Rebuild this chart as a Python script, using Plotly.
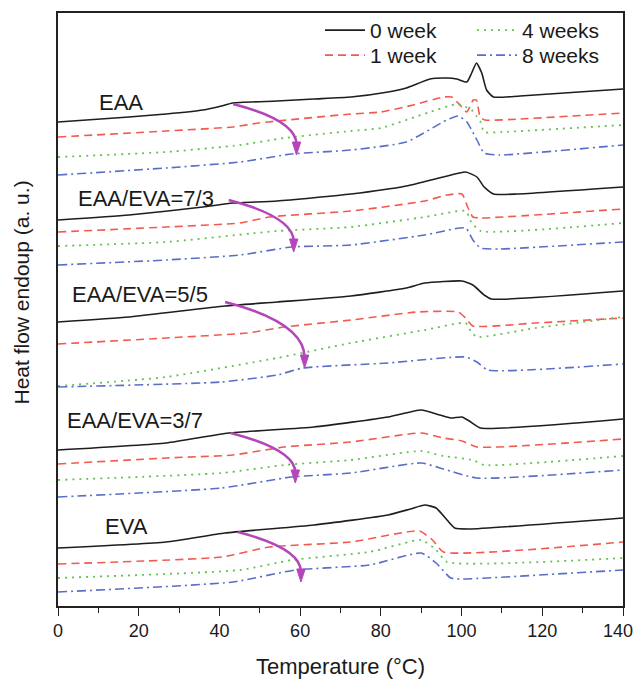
import plotly.graph_objects as go

# ---------------- data (temperature in °C, heat flow in a.u.) ----------------
weeks = ["0 week", "1 week", "4 weeks", "8 weeks"]

# EAA
eaa_0w_T = [0, 17.6, 26.8, 35.9, 40.5, 43.3, 54.3, 63.4, 72.6, 81.8, 86.3, 92.2, 96.3, 98.8, 101.3, 102.5, 103.7, 105.0, 106.2, 107.9, 114.5, 140]
eaa_0w_hf = [484, 489, 492, 496, 500, 503, 505, 507, 509, 514, 518, 527, 528, 527, 524, 533, 543, 533, 516, 509, 510, 517]
eaa_1w_T = [0, 26.8, 43.3, 49.7, 54.3, 72.6, 80, 88, 95.5, 97.6, 99.6, 101.3, 102.9, 103.7, 104.6, 105.8, 114.5, 140]
eaa_1w_hf = [469, 475, 479, 483, 485, 492, 494, 501, 509, 509, 501, 494, 506, 506, 489, 486, 487, 493]
eaa_4w_T = [0, 26.8, 45.1, 56.1, 72.6, 80, 92.2, 98.8, 100.5, 102.5, 103.7, 104.6, 105.6, 110, 140]
eaa_4w_hf = [449, 454, 461, 468, 475, 478, 494, 502, 500, 496, 490, 485, 474, 474, 481]
eaa_8w_T = [0, 26.8, 45.1, 57.9, 72.6, 86.3, 96.3, 99.2, 101.3, 102.5, 103.8, 105.6, 109.3, 140]
eaa_8w_hf = [431, 438, 444, 452, 456, 464, 486, 490, 484, 476, 466, 453, 451, 461]

# EAA/EVA = 7/3
r73_0w_T = [0, 17.6, 35.9, 43.3, 54.3, 72.6, 86.3, 95.5, 101.0, 103.8, 105.6, 107.9, 113.8, 140]
r73_0w_hf = [386, 391, 399, 403, 405, 412, 420, 429, 434, 429, 419, 412, 412, 419]
r73_1w_T = [0, 26.8, 45.1, 52.4, 72.6, 90.9, 96.4, 100.1, 101.5, 102.8, 104.7, 140]
r73_1w_hf = [374, 379, 383, 389, 395, 405, 411, 412, 399, 389, 388, 397]
r73_4w_T = [0, 26.8, 54.3, 72.6, 90.9, 101.0, 102.4, 104.7, 140]
r73_4w_hf = [360, 364, 375, 379, 389, 395, 384, 375, 383]
r73_8w_T = [0, 26.8, 45.1, 57.9, 72.6, 90.9, 101.0, 102.8, 104.7, 109.3, 140]
r73_8w_hf = [341, 346, 351, 359, 361, 371, 378, 366, 358, 357, 364]

# EAA/EVA = 5/5
r55_0w_T = [0, 17.6, 41.4, 54.3, 72.6, 86.3, 90.9, 100.1, 102.8, 105.6, 107.4, 140]
r55_0w_hf = [284, 289, 300, 304, 310, 318, 323, 325, 321, 311, 307, 315]
r55_1w_T = [0, 26.8, 46.9, 56.1, 72.6, 89.1, 99.2, 101.0, 102.8, 118.4, 140]
r55_1w_hf = [262, 268, 273, 279, 286, 294, 294, 288, 280, 283, 288]
r55_4w_T = [0, 26.8, 54.3, 72.6, 90.9, 101.0, 102.4, 103.8, 118.4, 140]
r55_4w_hf = [220, 229, 248, 263, 276, 283, 274, 269, 278, 289]
r55_8w_T = [0, 40.5, 54.3, 60.7, 81.8, 101.0, 103.8, 106.5, 140]
r55_8w_hf = [219, 224, 231, 238, 243, 249, 244, 236, 242]

# EAA/EVA = 3/7
r37_0w_T = [0, 26.8, 42.3, 63.4, 81.8, 90.0, 94.6, 97.3, 100.1, 101.9, 104.7, 140]
r37_0w_hf = [156, 163, 173, 179, 189, 196, 191, 188, 189, 185, 178, 187]
r37_1w_T = [0, 26.8, 43.3, 56.1, 72.6, 90.0, 95.5, 100.1, 103.8, 140]
r37_1w_hf = [142, 148, 151, 159, 164, 173, 168, 165, 159, 167]
r37_4w_T = [0, 40.5, 56.1, 72.6, 90.0, 95.5, 102.8, 105.6, 140]
r37_4w_hf = [126, 133, 141, 146, 155, 150, 146, 141, 150]
r37_8w_T = [0, 40.5, 57.9, 72.6, 90.0, 95.5, 103.8, 140]
r37_8w_hf = [109, 118, 129, 133, 143, 137, 128, 136]

# EVA
eva_0w_T = [0, 26.8, 41.4, 63.4, 81.8, 87.3, 90.9, 93.7, 96.4, 98.3, 101.9, 140]
eva_0w_hf = [58, 64, 73, 81, 91, 97, 101, 98, 86, 78, 77, 88]
eva_1w_T = [0, 40.5, 52.4, 72.6, 89.5, 92.8, 95.5, 140]
eva_1w_hf = [42, 49, 59, 64, 75, 66, 54, 64]
eva_4w_T = [0, 45.1, 57.9, 77.2, 90.0, 93.7, 96.4, 140]
eva_4w_hf = [28, 36, 46, 54, 66, 56, 44, 48]
eva_8w_T = [0, 43.3, 58.8, 77.2, 90.0, 93.7, 97.3, 100.1, 140]
eva_8w_hf = [14, 24, 36, 41, 53, 43, 28, 27, 36]

# sample labels
label_text = ["EAA", "EAA/EVA=7/3", "EAA/EVA=5/5", "EAA/EVA=3/7", "EVA"]
label_T = [15.7, 21.7, 20.3, 19.2, 16.9]
label_hf = [504, 408, 312, 186, 80]

# curved arrows (start -> tip)
arrow_T0 = [43.4, 42.3, 41.4, 42.8, 44.6]
arrow_hf0 = [502, 406, 304, 173, 74]
arrow_T1 = [59.1, 58.4, 61.1, 58.8, 60.2]
arrow_hf1 = [451, 354, 238, 123, 24]

x_ticks = [0, 20, 40, 60, 80, 100, 120, 140]
x_tick_labels = ["0", "20", "40", "60", "80", "100", "120", "140"]

# ---------------- styling ----------------
FONT = "Liberation Sans, Arial, sans-serif"
W, H = 636, 679
M = dict(l=58, r=13, t=13, b=73)
X_RANGE = [0, 140]
Y_RANGE = [0, 593]
PW = W - M["l"] - M["r"]
PH = H - M["t"] - M["b"]
px_per_T = PW / (X_RANGE[1] - X_RANGE[0])
px_per_hf = PH / (Y_RANGE[1] - Y_RANGE[0])

styles = {
    "0 week": dict(color="#1e1e1e", dash="solid", width=1.6),
    "1 week": dict(color="#f25a50", dash="8px,5px", width=1.6),
    "4 weeks": dict(color="#62c250", dash="2px,5px", width=1.8),
    "8 weeks": dict(color="#5a6ec8", dash="9px,4px,2px,4px", width=1.6),
}
# one legend box per entry so the 2x2 legend grid can be placed exactly
legend_id = {"0 week": "legend", "1 week": "legend2", "4 weeks": "legend3", "8 weeks": "legend4"}
legend_pos = {  # (left px, top px) in the page
    "legend": (320, 10), "legend2": (320, 35),
    "legend3": (472, 10), "legend4": (472, 35),
}

groups = [
    [(eaa_0w_T, eaa_0w_hf), (eaa_1w_T, eaa_1w_hf), (eaa_4w_T, eaa_4w_hf), (eaa_8w_T, eaa_8w_hf)],
    [(r73_0w_T, r73_0w_hf), (r73_1w_T, r73_1w_hf), (r73_4w_T, r73_4w_hf), (r73_8w_T, r73_8w_hf)],
    [(r55_0w_T, r55_0w_hf), (r55_1w_T, r55_1w_hf), (r55_4w_T, r55_4w_hf), (r55_8w_T, r55_8w_hf)],
    [(r37_0w_T, r37_0w_hf), (r37_1w_T, r37_1w_hf), (r37_4w_T, r37_4w_hf), (r37_8w_T, r37_8w_hf)],
    [(eva_0w_T, eva_0w_hf), (eva_1w_T, eva_1w_hf), (eva_4w_T, eva_4w_hf), (eva_8w_T, eva_8w_hf)],
]

fig = go.Figure()
for gi, group in enumerate(groups):
    for wk, (T, hf) in zip(weeks, group):
        st = styles[wk]
        fig.add_trace(go.Scatter(
            x=T, y=hf, mode="lines", name=wk,
            line=dict(color=st["color"], dash=st["dash"], width=st["width"],
                      shape="spline", smoothing=0.5),
            legend=legend_id[wk], legendgroup=wk, showlegend=(gi == 0),
            hoverinfo="skip",
        ))

# labels
for txt, t, v in zip(label_text, label_T, label_hf):
    fig.add_annotation(x=t, y=v, text=txt, showarrow=False, xanchor="center", yanchor="middle",
                       font=dict(family=FONT, size=22, color="#1a1a1a"))

# curved arrows
ARROW_C = "#b545ba"
head_len = 13 / px_per_hf
head_half = 4.2 / px_per_T
for t0, v0, t1, v1 in zip(arrow_T0, arrow_hf0, arrow_T1, arrow_hf1):
    dx_px = (t1 - t0) * px_per_T
    cy = v0 - 0.26 * dx_px / px_per_hf
    end_v = v1 + head_len * 0.8
    fig.add_shape(type="path", xref="x", yref="y",
                  path=f"M {t0},{v0} Q {t1},{cy} {t1},{end_v}",
                  line=dict(color=ARROW_C, width=2.6))
    fig.add_shape(type="path", xref="x", yref="y",
                  path=f"M {t1 - head_half},{v1 + head_len} L {t1 + head_half},{v1 + head_len} L {t1},{v1} Z",
                  line=dict(color=ARROW_C, width=1), fillcolor=ARROW_C)

# y-axis title (placed as rotated text)
fig.add_annotation(xref="paper", yref="paper",
                   x=(20.5 - M["l"]) / PW,
                   y=(H - M["b"] - 293) / PH,
                   text="Heat flow endoup (a. u.)", textangle=-90, showarrow=False,
                   xanchor="center", yanchor="middle",
                   font=dict(family=FONT, size=21, color="#1a1a1a"))

# the last tick label sits at the page edge: draw it nudged inwards so it stays whole
shown_ticktext = x_tick_labels[:-1] + [""]
fig.add_annotation(x=x_ticks[-1], xref="x", y=0, yref="paper", text=x_tick_labels[-1],
                   showarrow=False, xanchor="right", yanchor="middle",
                   xshift=W - M["l"] - PW - 1, yshift=-25,
                   font=dict(family=FONT, size=18, color="#1a1a1a"))

legend_layout = {}
for lid, (lx, ly) in legend_pos.items():
    legend_layout[lid] = dict(
        x=(lx - M["l"]) / PW, y=(H - M["b"] - ly) / PH, xanchor="left", yanchor="top",
        orientation="v", bgcolor="rgba(0,0,0,0)", itemwidth=40, tracegroupgap=0,
        font=dict(family=FONT, size=21, color="#1a1a1a"),
    )

fig.update_layout(
    width=W, height=H, margin=dict(**M, autoexpand=False),
    paper_bgcolor="white", plot_bgcolor="white",
    font=dict(family=FONT, color="#1a1a1a"),
    **legend_layout,
    xaxis=dict(range=X_RANGE, tickvals=x_ticks, ticktext=shown_ticktext, ticks="outside",
               ticklen=8, tickwidth=1.3,
               tickcolor="#222", showline=True, linecolor="#222", linewidth=1.5, mirror=True,
               showgrid=False, zeroline=False, automargin=False,
               tickfont=dict(family=FONT, size=18, color="#1a1a1a"),
               minor=dict(dtick=10, ticks="outside", ticklen=5, tickwidth=1.3, tickcolor="#222", showgrid=False),
               title=dict(text="Temperature (°C)", standoff=21,
                          font=dict(family=FONT, size=22, color="#1a1a1a"))),
    yaxis=dict(range=Y_RANGE, showticklabels=False, ticks="", showline=True, linecolor="#222",
               linewidth=1.5, mirror=True, showgrid=False, zeroline=False, automargin=False),
)

fig.write_html("out.html")
